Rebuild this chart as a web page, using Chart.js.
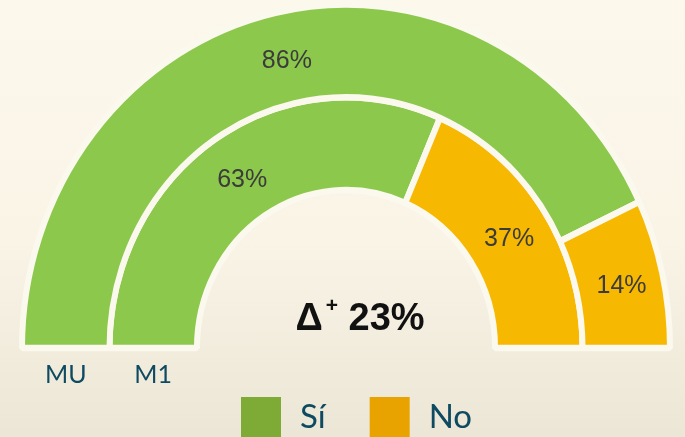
<!DOCTYPE html>
<html>
<head>
<meta charset="utf-8">
<script src="https://cdn.jsdelivr.net/npm/chart.js@4.4.1/dist/chart.umd.min.js"></script>
<style>
  html, body { margin: 0; padding: 0; }
  body {
    width: 685px; height: 437px; overflow: hidden;
    background: linear-gradient(180deg, #fcf8ec 0%, #f9f4e6 55%, #ece6d6 100%);
  }
  #wrap { position: relative; width: 685px; height: 437px; }
</style>
</head>
<body>
<div id="wrap"><canvas id="chart" width="685" height="437"></canvas></div>
<script>
// datos
const rings = ['MU', 'M1'];
const categories = ['Sí', 'No'];
const siValues = [86, 63];
const noValues = [14, 37];
const deltaValue = 23;

const ringColors = ['#8cc84b', '#f7b801'];
const legendColors = ['#7eab36', '#e9a300'];
const navy = '#0e4a61';
const stretchY = 1.06; // el semicírculo original está un poco estirado en vertical

// estira los arcos en vertical alrededor del centro
const stretch = {
    id: 'stretch',
    beforeDatasetsDraw(chart) {
        const cy = chart.getDatasetMeta(0).data[0].y;
        chart.ctx.save();
        chart.ctx.translate(0, cy);
        chart.ctx.scale(1, stretchY);
        chart.ctx.translate(0, -cy);
    },
    afterDatasetsDraw(chart) {
        chart.ctx.restore();
    }
};

// porcentajes dentro de cada arco + etiquetas MU / M1
const arcLabels = {
    id: 'arcLabels',
    afterDatasetsDraw(chart) {
        const ctx = chart.ctx;
        ctx.save();
        ctx.textAlign = 'center';
        ctx.textBaseline = 'middle';
        chart.data.datasets.forEach((ds, i) => {
            const meta = chart.getDatasetMeta(i);
            ctx.font = '25px "Liberation Sans", Arial, sans-serif';
            ctx.fillStyle = '#3b3b3b';
            meta.data.forEach((arc, j) => {
                const p = arc.tooltipPosition();
                const y = arc.y - (arc.y - p.y) * stretchY;
                ctx.fillText(ds.data[j] + '%', p.x + 2, y + 3);
            });
            // nombre del anillo debajo de su extremo izquierdo
            const a = meta.data[0];
            ctx.font = '25px Lato, "Open Sans", sans-serif';
            ctx.fillStyle = navy;
            ctx.fillText(rings[i], a.x - (a.innerRadius + a.outerRadius) / 2, 375);
        });
        ctx.restore();
    }
};

// texto central Δ+ 23%
const centerText = {
    id: 'centerText',
    afterDraw(chart) {
        const ctx = chart.ctx;
        const arc = chart.getDatasetMeta(0).data[0];
        const big = 'bold 38px "Liberation Sans", Arial, sans-serif';
        const small = 'bold 21px "Liberation Sans", Arial, sans-serif';
        const y = 320;
        ctx.save();
        ctx.fillStyle = '#111';
        ctx.textBaseline = 'middle';
        ctx.textAlign = 'left';
        ctx.font = big;
        const wD = ctx.measureText('Δ').width;
        const wN = ctx.measureText(' ' + deltaValue + '%').width;
        ctx.font = small;
        const wP = ctx.measureText('+').width;
        let x = arc.x + 14 - (wD + wP + 3 + wN) / 2;
        ctx.font = big;
        ctx.fillText('Δ', x, y);
        x += wD + 3;
        ctx.font = small;
        ctx.fillText('+', x, y - 14);
        x += wP;
        ctx.font = big;
        ctx.fillText(' ' + deltaValue + '%', x, y);
        ctx.restore();
    }
};

// leyenda inferior
const bottomLegend = {
    id: 'bottomLegend',
    afterDraw(chart) {
        const ctx = chart.ctx;
        ctx.save();
        ctx.font = '33px Lato, "Open Sans", sans-serif';
        ctx.textBaseline = 'middle';
        ctx.textAlign = 'left';
        let x = 241;
        const top = 397;
        categories.forEach((c, i) => {
            ctx.fillStyle = legendColors[i];
            ctx.fillRect(x, top, 40, 40);
            ctx.fillStyle = navy;
            ctx.fillText(c, x + 59, top + 20);
            x += 59 + ctx.measureText(c).width + 44;
        });
        ctx.restore();
    }
};

const ctx = document.getElementById('chart').getContext('2d');
new Chart(ctx, {
    type: 'doughnut',
    data: {
        labels: categories,
        datasets: rings.map((r, i) => ({
            label: r,
            data: [siValues[i], noValues[i]],
            backgroundColor: ringColors,
            borderColor: '#fbf8ee',
            borderWidth: 6
        }))
    },
    options: {
        responsive: false,
        animation: false,
        rotation: -90,
        circumference: 180,
        cutout: '46%',
        layout: { padding: { left: 19, right: 12, top: 21, bottom: 86 } },
        plugins: {
            legend: { display: false },
            tooltip: { enabled: false }
        }
    },
    plugins: [stretch, arcLabels, centerText, bottomLegend]
});
</script>
</body>
</html>
